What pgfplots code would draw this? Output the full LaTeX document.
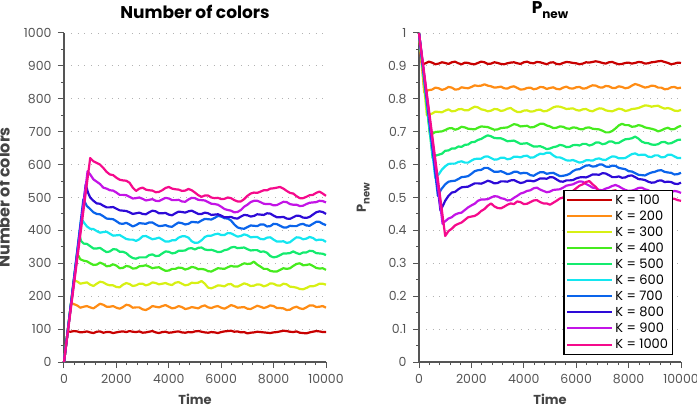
\documentclass[border=0pt]{standalone}
\usepackage{pgfplots}
\pgfplotsset{compat=1.18}
\usepackage{fontspec}
\setmainfont{Poppins}
\definecolor{c1}{RGB}{200,0,0}
\definecolor{c2}{RGB}{255,140,20}
\definecolor{c3}{RGB}{215,240,20}
\definecolor{c4}{RGB}{70,235,30}
\definecolor{c5}{RGB}{20,235,110}
\definecolor{c6}{RGB}{20,230,240}
\definecolor{c7}{RGB}{10,100,235}
\definecolor{c8}{RGB}{45,10,215}
\definecolor{c9}{RGB}{195,20,230}
\definecolor{c10}{RGB}{245,10,140}
\definecolor{axgray}{RGB}{85,85,85}
\newcommand\Pnew{P\raisebox{-0.5ex}{\fontsize{10}{10}\selectfont new}}
\newcommand\Ptitle{P\raisebox{-0.55ex}{\fontsize{12}{12}\selectfont new}}
\pgfplotsset{
  myax/.style={
    scale only axis, width=262pt, height=329pt,
    axis lines=left, axis line style={axgray, line width=1.3pt, -},
    every tick/.style={axgray, line width=1pt},
    tick align=outside, major tick length=6pt, minor tick length=3pt,
    xmin=0, xmax=10000, xtick={0,2000,4000,6000,8000,10000}, minor x tick num=4,
    scaled x ticks=false,
    /pgf/number format/assume math mode=true,
    /pgf/number format/1000 sep={},
    tick label style={font=\fontsize{12.5}{14}\selectfont, text=axgray},
    xticklabel style={yshift=-3pt},
    yticklabel style={xshift=-3pt},
    ymajorgrids, grid style={gray!60, line width=0.8pt, dash pattern=on 0.8pt off 6pt},
    title style={font=\bfseries\fontsize{17}{19}\selectfont, at={(0.5,1)}, anchor=south, yshift=5pt},
    xlabel={\textbf{Time}},
    xlabel style={font=\bfseries\fontsize{13}{15}\selectfont, text=axgray!80!black, at={(axis description cs:0.5,-0.1125)}, anchor=center},
    ylabel style={text=axgray!80!black},
    every axis plot/.append style={line width=2.2pt, line join=round},
    clip=false,
  }
}
\begin{document}
\begin{tikzpicture}
\begin{axis}[myax, at={(64pt,48pt)}, anchor=south west,
  ymin=0, ymax=1000, ytick={0,100,...,1000}, minor y tick num=1,
  title={Number of colors}, ylabel={Number of colors},
  ylabel style={font=\bfseries\fontsize{16}{18}\selectfont, at={(axis description cs:-0.206,0.5)}, anchor=south, inner sep=0pt}]
\addplot[c1] coordinates {(0,0)(140,93)(250,92)(375,94)(500,93)(625,90)(750,91)(875,93)(1000,90)(1125,88)(1250,92)(1375,93)(1500,89)(1625,91)(1750,91)(1875,88)(2000,90)(2125,92)(2250,93)(2375,91)(2500,94)(2625,92)(2750,91)(2875,93)(3000,89)(3125,90)(3250,92)(3375,94)(3500,90)(3625,88)(3750,91)(3875,92)(4000,89)(4125,90)(4250,92)(4375,93)(4500,90)(4625,89)(4750,91)(4875,90)(5000,93)(5125,94)(5250,92)(5375,90)(5500,89)(5625,91)(5750,90)(5875,88)(6000,91)(6125,93)(6250,94)(6375,95)(6500,92)(6625,93)(6750,90)(6875,91)(7000,87)(7125,89)(7250,90)(7375,92)(7500,91)(7625,90)(7750,89)(7875,88)(8000,90)(8125,91)(8250,93)(8375,95)(8500,94)(8625,92)(8750,91)(8875,93)(9000,89)(9125,88)(9250,87)(9375,90)(9500,92)(9625,94)(9750,93)(9875,91)(10000,91)};
\addplot[c2] coordinates {(0,0)(270,179)(375,176)(500,172)(625,165)(750,168)(875,170)(1000,166)(1125,163)(1250,170)(1375,177)(1500,174)(1625,168)(1750,168)(1875,170)(2000,165)(2125,162)(2250,167)(2375,174)(2500,172)(2625,165)(2750,166)(2875,166)(3000,160)(3125,158)(3250,163)(3375,170)(3500,168)(3625,166)(3750,170)(3875,173)(4000,168)(4125,163)(4250,165)(4375,170)(4500,167)(4625,161)(4750,163)(4875,167)(5000,165)(5125,163)(5250,169)(5375,172)(5500,166)(5625,164)(5750,168)(5875,170)(6000,165)(6125,162)(6250,167)(6375,173)(6500,170)(6625,165)(6750,166)(6875,167)(7000,162)(7125,161)(7250,166)(7375,171)(7500,168)(7625,164)(7750,167)(7875,172)(8000,170)(8125,164)(8250,164)(8375,163)(8500,158)(8625,159)(8750,165)(8875,168)(9000,163)(9125,161)(9250,166)(9375,172)(9500,172)(9625,167)(9750,168)(9875,170)(10000,165)};
\addplot[c3] coordinates {(0,0)(380,252)(440,246)(500,245)(625,238)(750,240)(875,242)(1000,235)(1125,231)(1250,238)(1375,244)(1500,242)(1625,236)(1750,233)(1875,233)(2000,228)(2125,227)(2250,235)(2375,240)(2500,237)(2625,231)(2750,233)(2875,238)(3000,238)(3125,233)(3250,236)(3375,242)(3500,240)(3625,236)(3750,238)(3875,240)(4000,236)(4125,234)(4250,241)(4375,243)(4500,238)(4625,233)(4750,235)(4875,241)(5000,240)(5125,241)(5250,246)(5375,238)(5500,226)(5625,224)(5750,228)(5875,233)(6000,232)(6125,230)(6250,236)(6375,237)(6500,230)(6625,229)(6750,234)(6875,239)(7000,236)(7125,231)(7250,232)(7375,236)(7500,235)(7625,230)(7750,233)(7875,239)(8000,238)(8125,233)(8250,232)(8375,238)(8500,236)(8625,229)(8750,228)(8875,226)(9000,222)(9125,221)(9250,225)(9375,230)(9500,230)(9625,233)(9750,238)(9875,238)(10000,235)};
\addplot[c4] coordinates {(0,0)(500,330)(625,312)(750,308)(875,306)(1000,300)(1125,295)(1250,296)(1375,302)(1500,298)(1625,291)(1750,292)(1875,297)(2000,293)(2125,285)(2250,286)(2375,292)(2500,290)(2625,284)(2750,285)(2875,291)(3000,292)(3125,294)(3250,290)(3375,285)(3500,287)(3625,288)(3750,282)(3875,277)(4000,278)(4125,283)(4250,283)(4375,287)(4500,286)(4625,281)(4750,284)(4875,289)(5000,287)(5125,282)(5250,283)(5375,281)(5500,276)(5625,275)(5750,280)(5875,285)(6000,284)(6125,283)(6250,288)(6375,292)(6500,290)(6625,290)(6750,295)(6875,300)(7000,298)(7125,299)(7250,305)(7375,296)(7500,290)(7625,283)(7750,283)(7875,277)(8000,275)(8125,275)(8250,280)(8375,285)(8500,283)(8625,285)(8750,292)(8875,298)(9000,300)(9125,294)(9250,295)(9375,297)(9500,292)(9625,286)(9750,284)(9875,285)(10000,280)};
\addplot[c5] coordinates {(0,0)(590,386)(650,368)(750,360)(875,359)(1000,352)(1125,345)(1250,345)(1375,347)(1500,340)(1625,334)(1750,336)(1875,343)(2000,342)(2125,335)(2250,335)(2375,331)(2500,322)(2625,316)(2750,314)(2875,318)(3000,318)(3125,318)(3250,325)(3375,327)(3500,322)(3625,323)(3750,330)(3875,336)(4000,335)(4125,330)(4250,332)(4375,338)(4500,338)(4625,339)(4750,345)(4875,346)(5000,342)(5125,347)(5250,348)(5375,342)(5500,340)(5625,341)(5750,338)(5875,334)(6000,335)(6125,340)(6250,342)(6375,348)(6500,350)(6625,346)(6750,347)(6875,348)(7000,343)(7125,339)(7250,340)(7375,340)(7500,335)(7625,336)(7750,332)(7875,322)(8000,318)(8125,320)(8250,325)(8375,330)(8500,330)(8625,331)(8750,336)(8875,331)(9000,328)(9125,333)(9250,333)(9375,338)(9500,337)(9625,331)(9750,330)(9875,329)(10000,325)};
\addplot[c6] coordinates {(0,0)(660,437)(750,425)(875,412)(1000,405)(1125,404)(1250,398)(1375,393)(1500,395)(1625,396)(1750,390)(1875,384)(2000,385)(2125,386)(2250,380)(2375,374)(2500,372)(2625,372)(2750,368)(2875,373)(3000,382)(3125,383)(3250,378)(3375,373)(3500,375)(3625,378)(3750,372)(3875,366)(4000,366)(4125,370)(4250,370)(4375,378)(4500,382)(4625,382)(4750,378)(4875,367)(5000,362)(5125,363)(5250,370)(5375,380)(5500,384)(5625,384)(5750,388)(5875,390)(6000,386)(6125,386)(6250,392)(6375,391)(6500,386)(6625,381)(6750,383)(6875,388)(7000,385)(7125,379)(7250,380)(7375,380)(7500,374)(7625,373)(7750,378)(7875,379)(8000,372)(8125,366)(8250,366)(8375,367)(8500,362)(8625,364)(8750,372)(8875,379)(9000,378)(9125,373)(9250,375)(9375,380)(9500,377)(9625,370)(9750,372)(9875,371)(10000,365)};
\addplot[c7] coordinates {(0,0)(740,495)(875,474)(1000,465)(1125,455)(1250,450)(1375,449)(1500,443)(1625,436)(1750,435)(1875,434)(2000,428)(2125,421)(2250,420)(2375,423)(2500,418)(2625,412)(2750,416)(2875,422)(3000,421)(3125,420)(3250,424)(3375,424)(3500,418)(3625,413)(3750,414)(3875,416)(4000,412)(4125,411)(4250,418)(4375,424)(4500,422)(4625,418)(4750,420)(4875,426)(5000,425)(5125,424)(5250,430)(5375,435)(5500,434)(5625,433)(5750,438)(5875,444)(6000,442)(6125,437)(6250,436)(6375,430)(6500,418)(6625,409)(6750,406)(6875,405)(7000,410)(7125,415)(7250,414)(7375,413)(7500,418)(7625,418)(7750,412)(7875,413)(8000,420)(8125,419)(8250,414)(8375,409)(8500,409)(8625,414)(8750,413)(8875,413)(9000,418)(9125,420)(9250,415)(9375,414)(9500,420)(9625,426)(9750,426)(9875,420)(10000,416)};
\addplot[c8] coordinates {(0,0)(830,540)(915,515)(1000,500)(1125,490)(1250,482)(1375,481)(1500,475)(1625,470)(1750,470)(1875,471)(2000,466)(2125,461)(2250,460)(2375,459)(2500,455)(2625,450)(2750,452)(2875,454)(3000,450)(3125,449)(3250,455)(3375,460)(3500,458)(3625,452)(3750,452)(3875,453)(4000,448)(4125,446)(4250,452)(4375,457)(4500,456)(4625,454)(4750,458)(4875,460)(5000,455)(5125,450)(5250,450)(5375,454)(5500,452)(5625,447)(5750,448)(5875,449)(6000,445)(6125,440)(6250,440)(6375,441)(6500,437)(6625,436)(6750,442)(6875,447)(7000,446)(7125,442)(7250,444)(7375,449)(7500,448)(7625,447)(7750,452)(7875,451)(8000,445)(8125,440)(8250,440)(8375,441)(8500,436)(8625,435)(8750,440)(8875,445)(9000,444)(9125,439)(9250,438)(9375,441)(9500,448)(9625,455)(9750,458)(9875,456)(10000,450)};
\addplot[c9] coordinates {(0,0)(900,580)(1000,570)(1125,555)(1250,548)(1375,541)(1500,530)(1625,527)(1750,522)(1875,521)(2000,515)(2125,508)(2250,508)(2375,507)(2500,502)(2625,497)(2750,498)(2875,500)(3000,496)(3125,491)(3250,493)(3375,495)(3500,490)(3625,489)(3750,494)(3875,499)(4000,497)(4125,492)(4250,492)(4375,493)(4500,488)(4625,487)(4750,494)(4875,499)(5000,498)(5125,493)(5250,492)(5375,491)(5500,486)(5625,481)(5750,480)(5875,478)(6000,472)(6125,465)(6250,462)(6375,460)(6500,455)(6625,456)(6750,462)(6875,472)(7000,478)(7125,486)(7250,490)(7375,490)(7500,486)(7625,481)(7750,480)(7875,480)(8000,476)(8125,477)(8250,482)(8375,487)(8500,486)(8625,480)(8750,478)(8875,478)(9000,474)(9125,475)(9250,480)(9375,484)(9500,485)(9625,486)(9750,490)(9875,489)(10000,485)};
\addplot[c10] coordinates {(0,0)(1000,620)(1125,610)(1250,605)(1375,600)(1500,590)(1625,578)(1750,570)(1875,568)(2000,560)(2125,554)(2250,552)(2375,551)(2500,545)(2625,530)(2750,520)(2875,527)(3000,530)(3125,524)(3250,522)(3375,521)(3500,516)(3625,517)(3750,522)(3875,529)(4000,532)(4125,527)(4250,525)(4375,524)(4500,520)(4625,521)(4750,526)(4875,522)(5000,515)(5125,507)(5250,502)(5375,506)(5500,506)(5625,500)(5750,498)(5875,499)(6000,495)(6125,496)(6250,500)(6375,498)(6500,492)(6625,488)(6750,488)(6875,495)(7000,505)(7125,512)(7250,515)(7375,514)(7500,518)(7625,522)(7750,522)(7875,527)(8000,528)(8125,530)(8250,532)(8375,527)(8500,520)(8625,514)(8750,512)(8875,504)(9000,498)(9125,498)(9250,502)(9375,507)(9500,508)(9625,514)(9750,518)(9875,512)(10000,505)};
\end{axis}
\begin{axis}[myax, at={(419pt,48pt)}, anchor=south west,
  ymin=0, ymax=1, ytick={0,0.1,0.2,0.3,0.4,0.5,0.6,0.7,0.8,0.9,1}, minor y tick num=1,
  title={\Ptitle}, ylabel={\Pnew},
  ylabel style={font=\bfseries\fontsize{13}{15}\selectfont, at={(axis description cs:-0.213,0.5)}, anchor=center},
  legend style={at={(1,0)}, anchor=south east, xshift=-8pt, yshift=7pt, draw=black, line width=1.5pt, fill=white,
    font=\fontsize{13}{14}\selectfont, row sep=1pt, inner sep=2.2pt},
  legend cell align=left,
  legend image code/.code={\draw[#1, line width=2pt] (0pt,0pt) -- (45pt,0pt);}]
\addplot[c1] coordinates {(0,1)(100,0.91)(175,0.906)(250,0.908)(375,0.913)(500,0.910)(625,0.905)(750,0.907)(875,0.911)(1000,0.909)(1125,0.906)(1250,0.911)(1375,0.913)(1500,0.908)(1625,0.905)(1750,0.910)(1875,0.909)(2000,0.906)(2125,0.905)(2250,0.909)(2375,0.913)(2500,0.911)(2625,0.906)(2750,0.907)(2875,0.911)(3000,0.909)(3125,0.906)(3250,0.905)(3375,0.908)(3500,0.910)(3625,0.911)(3750,0.908)(3875,0.906)(4000,0.911)(4125,0.913)(4250,0.909)(4375,0.908)(4500,0.912)(4625,0.911)(4750,0.908)(4875,0.905)(5000,0.910)(5125,0.911)(5250,0.906)(5375,0.905)(5500,0.909)(5625,0.912)(5750,0.911)(5875,0.909)(6000,0.908)(6125,0.905)(6250,0.907)(6375,0.911)(6500,0.910)(6625,0.912)(6750,0.914)(6875,0.912)(7000,0.909)(7125,0.907)(7250,0.911)(7375,0.912)(7500,0.908)(7625,0.905)(7750,0.906)(7875,0.909)(8000,0.910)(8125,0.907)(8250,0.909)(8375,0.912)(8500,0.911)(8625,0.907)(8750,0.908)(8875,0.911)(9000,0.912)(9125,0.914)(9250,0.915)(9375,0.912)(9500,0.909)(9625,0.905)(9750,0.907)(9875,0.910)(10000,0.909)};
\addlegendentry{K = 100}
\addplot[c2] coordinates {(0,1)(200,0.82)(350,0.826)(500,0.828)(625,0.834)(750,0.832)(875,0.827)(1000,0.830)(1125,0.836)(1250,0.834)(1375,0.828)(1500,0.829)(1625,0.835)(1750,0.833)(1875,0.832)(2000,0.836)(2125,0.841)(2250,0.839)(2375,0.840)(2500,0.844)(2625,0.840)(2750,0.838)(2875,0.834)(3000,0.835)(3125,0.837)(3250,0.832)(3375,0.831)(3500,0.836)(3625,0.838)(3750,0.833)(3875,0.828)(4000,0.829)(4125,0.833)(4250,0.834)(4375,0.829)(4500,0.831)(4625,0.836)(4750,0.835)(4875,0.830)(5000,0.833)(5125,0.835)(5250,0.830)(5375,0.829)(5500,0.834)(5625,0.837)(5750,0.832)(5875,0.831)(6000,0.835)(6125,0.836)(6250,0.831)(6375,0.832)(6500,0.837)(6625,0.841)(6750,0.840)(6875,0.835)(7000,0.834)(7125,0.839)(7250,0.838)(7375,0.833)(7500,0.833)(7625,0.838)(7750,0.836)(7875,0.832)(8000,0.834)(8125,0.840)(8250,0.845)(8375,0.842)(8500,0.838)(8625,0.834)(8750,0.836)(8875,0.840)(9000,0.839)(9125,0.834)(9250,0.834)(9375,0.829)(9500,0.830)(9625,0.835)(9750,0.836)(9875,0.832)(10000,0.834)};
\addlegendentry{K = 200}
\addplot[c3] coordinates {(0,1)(300,0.75)(400,0.753)(500,0.755)(625,0.761)(750,0.760)(875,0.759)(1000,0.764)(1125,0.768)(1250,0.762)(1375,0.763)(1500,0.768)(1625,0.769)(1750,0.765)(1875,0.765)(2000,0.771)(2125,0.776)(2250,0.774)(2375,0.768)(2500,0.766)(2625,0.762)(2750,0.764)(2875,0.769)(3000,0.768)(3125,0.763)(3250,0.765)(3375,0.770)(3500,0.772)(3625,0.765)(3750,0.760)(3875,0.760)(4000,0.764)(4125,0.765)(4250,0.761)(4375,0.762)(4500,0.766)(4625,0.767)(4750,0.762)(4875,0.763)(5000,0.768)(5125,0.774)(5250,0.777)(5375,0.776)(5500,0.773)(5625,0.769)(5750,0.770)(5875,0.771)(6000,0.766)(6125,0.764)(6250,0.768)(6375,0.769)(6500,0.764)(6625,0.762)(6750,0.767)(6875,0.771)(7000,0.770)(7125,0.765)(7250,0.763)(7375,0.762)(7500,0.766)(7625,0.770)(7750,0.768)(7875,0.763)(8000,0.765)(8125,0.769)(8250,0.770)(8375,0.772)(8500,0.776)(8625,0.780)(8750,0.779)(8875,0.776)(9000,0.778)(9125,0.779)(9250,0.774)(9375,0.770)(9500,0.772)(9625,0.769)(9750,0.764)(9875,0.763)(10000,0.766)};
\addlegendentry{K = 300}
\addplot[c4] coordinates {(0,1)(420,0.69)(500,0.693)(625,0.699)(750,0.700)(875,0.701)(1000,0.705)(1125,0.710)(1250,0.711)(1375,0.706)(1500,0.709)(1625,0.715)(1750,0.713)(1875,0.709)(2000,0.708)(2125,0.707)(2250,0.712)(2375,0.716)(2500,0.715)(2625,0.714)(2750,0.710)(2875,0.706)(3000,0.707)(3125,0.711)(3250,0.712)(3375,0.713)(3500,0.718)(3625,0.723)(3750,0.721)(3875,0.716)(4000,0.717)(4125,0.718)(4250,0.713)(4375,0.714)(4500,0.719)(4625,0.724)(4750,0.724)(4875,0.719)(5000,0.716)(5125,0.711)(5250,0.712)(5375,0.716)(5500,0.715)(5625,0.710)(5750,0.709)(5875,0.713)(6000,0.712)(6125,0.708)(6250,0.707)(6375,0.712)(6500,0.713)(6625,0.709)(6750,0.708)(6875,0.707)(7000,0.703)(7125,0.698)(7250,0.698)(7375,0.702)(7500,0.710)(7625,0.719)(7750,0.724)(7875,0.720)(8000,0.720)(8125,0.715)(8250,0.716)(8375,0.720)(8500,0.718)(8625,0.713)(8750,0.711)(8875,0.709)(9000,0.706)(9125,0.701)(9250,0.704)(9375,0.709)(9500,0.712)(9625,0.707)(9750,0.708)(9875,0.714)(10000,0.718)};
\addlegendentry{K = 400}
\addplot[c5] coordinates {(0,1)(520,0.62)(625,0.627)(750,0.630)(875,0.633)(1000,0.642)(1125,0.643)(1250,0.649)(1375,0.649)(1500,0.655)(1625,0.654)(1750,0.660)(1875,0.661)(2000,0.668)(2125,0.669)(2250,0.675)(2375,0.678)(2500,0.684)(2625,0.689)(2750,0.686)(2875,0.681)(3000,0.680)(3125,0.680)(3250,0.676)(3375,0.671)(3500,0.672)(3625,0.673)(3750,0.668)(3875,0.663)(4000,0.664)(4125,0.665)(4250,0.660)(4375,0.655)(4500,0.655)(4625,0.656)(4750,0.652)(4875,0.647)(5000,0.649)(5125,0.653)(5250,0.655)(5375,0.660)(5500,0.658)(5625,0.653)(5750,0.654)(5875,0.659)(6000,0.660)(6125,0.658)(6250,0.663)(6375,0.663)(6500,0.658)(6625,0.661)(6750,0.667)(6875,0.667)(7000,0.662)(7125,0.664)(7250,0.670)(7375,0.670)(7500,0.665)(7625,0.666)(7750,0.672)(7875,0.677)(8000,0.678)(8125,0.680)(8250,0.685)(8375,0.679)(8500,0.670)(8625,0.666)(8750,0.665)(8875,0.661)(9000,0.660)(9125,0.662)(9250,0.668)(9375,0.669)(9500,0.664)(9625,0.665)(9750,0.670)(9875,0.675)(10000,0.676)};
\addlegendentry{K = 500}
\addplot[c6] coordinates {(0,1)(620,0.56)(750,0.570)(875,0.585)(1000,0.595)(1125,0.602)(1250,0.603)(1375,0.603)(1500,0.608)(1625,0.610)(1750,0.606)(1875,0.606)(2000,0.612)(2125,0.617)(2250,0.618)(2375,0.618)(2500,0.624)(2625,0.625)(2750,0.620)(2875,0.615)(3000,0.616)(3125,0.621)(3250,0.621)(3375,0.616)(3500,0.618)(3625,0.624)(3750,0.624)(3875,0.622)(4000,0.626)(4125,0.627)(4250,0.621)(4375,0.622)(4500,0.628)(4625,0.633)(4750,0.632)(4875,0.636)(5000,0.636)(5125,0.628)(5250,0.622)(5375,0.622)(5500,0.618)(5625,0.613)(5750,0.612)(5875,0.614)(6000,0.610)(6125,0.606)(6250,0.608)(6375,0.613)(6500,0.613)(6625,0.612)(6750,0.617)(6875,0.619)(7000,0.615)(7125,0.614)(7250,0.620)(7375,0.625)(7500,0.624)(7625,0.619)(7750,0.619)(7875,0.620)(8000,0.626)(8125,0.632)(8250,0.634)(8375,0.629)(8500,0.630)(8625,0.630)(8750,0.624)(8875,0.623)(9000,0.628)(9125,0.628)(9250,0.622)(9375,0.623)(9500,0.630)(9625,0.630)(9750,0.625)(9875,0.620)(10000,0.620)};
\addlegendentry{K = 600}
\addplot[c7] coordinates {(0,1)(720,0.505)(850,0.525)(1000,0.540)(1125,0.548)(1250,0.550)(1375,0.551)(1500,0.556)(1625,0.562)(1750,0.563)(1875,0.565)(2000,0.572)(2125,0.580)(2250,0.583)(2375,0.584)(2500,0.590)(2625,0.590)(2750,0.584)(2875,0.578)(3000,0.578)(3125,0.580)(3250,0.576)(3375,0.571)(3500,0.573)(3625,0.578)(3750,0.578)(3875,0.573)(4000,0.575)(4125,0.574)(4250,0.568)(4375,0.566)(4500,0.572)(4625,0.577)(4750,0.577)(4875,0.572)(5000,0.574)(5125,0.575)(5250,0.570)(5375,0.565)(5500,0.566)(5625,0.568)(5750,0.572)(5875,0.580)(6000,0.585)(6125,0.586)(6250,0.592)(6375,0.597)(6500,0.598)(6625,0.594)(6750,0.595)(6875,0.600)(7000,0.600)(7125,0.594)(7250,0.593)(7375,0.597)(7500,0.596)(7625,0.590)(7750,0.588)(7875,0.586)(8000,0.580)(8125,0.579)(8250,0.574)(8375,0.569)(8500,0.568)(8625,0.567)(8750,0.572)(8875,0.576)(9000,0.578)(9125,0.582)(9250,0.583)(9375,0.578)(9500,0.576)(9625,0.575)(9750,0.570)(9875,0.571)(10000,0.575)};
\addlegendentry{K = 700}
\addplot[c8] coordinates {(0,1)(820,0.46)(910,0.475)(1000,0.490)(1125,0.505)(1250,0.515)(1375,0.517)(1500,0.525)(1625,0.531)(1750,0.532)(1875,0.533)(2000,0.538)(2125,0.543)(2250,0.543)(2375,0.542)(2500,0.546)(2625,0.551)(2750,0.548)(2875,0.543)(3000,0.544)(3125,0.549)(3250,0.549)(3375,0.548)(3500,0.552)(3625,0.553)(3750,0.548)(3875,0.544)(4000,0.546)(4125,0.551)(4250,0.551)(4375,0.549)(4500,0.553)(4625,0.558)(4750,0.558)(4875,0.557)(5000,0.562)(5125,0.561)(5250,0.555)(5375,0.549)(5500,0.548)(5625,0.552)(5750,0.552)(5875,0.553)(6000,0.558)(6125,0.561)(6250,0.562)(6375,0.561)(6500,0.565)(6625,0.570)(6750,0.570)(6875,0.569)(7000,0.574)(7125,0.573)(7250,0.568)(7375,0.562)(7500,0.562)(7625,0.564)(7750,0.560)(7875,0.561)(8000,0.566)(8125,0.567)(8250,0.562)(8375,0.556)(8500,0.555)(8625,0.553)(8750,0.548)(8875,0.545)(9000,0.546)(9125,0.551)(9250,0.552)(9375,0.547)(9500,0.548)(9625,0.547)(9750,0.542)(9875,0.541)(10000,0.545)};
\addlegendentry{K = 800}
\addplot[c9] coordinates {(0,1)(900,0.42)(1000,0.428)(1125,0.436)(1250,0.440)(1375,0.448)(1500,0.452)(1625,0.454)(1750,0.462)(1875,0.470)(2000,0.476)(2125,0.481)(2250,0.490)(2375,0.494)(2500,0.494)(2625,0.495)(2750,0.500)(2875,0.504)(3000,0.503)(3125,0.498)(3250,0.496)(3375,0.491)(3500,0.492)(3625,0.499)(3750,0.505)(3875,0.512)(4000,0.515)(4125,0.520)(4250,0.522)(4375,0.528)(4500,0.530)(4625,0.524)(4750,0.520)(4875,0.516)(5000,0.518)(5125,0.523)(5250,0.524)(5375,0.525)(5500,0.530)(5625,0.536)(5750,0.538)(5875,0.540)(6000,0.545)(6125,0.549)(6250,0.548)(6375,0.541)(6500,0.536)(6625,0.530)(6750,0.528)(6875,0.523)(7000,0.522)(7125,0.527)(7250,0.530)(7375,0.535)(7500,0.538)(7625,0.534)(7750,0.528)(7875,0.523)(8000,0.520)(8125,0.521)(8250,0.524)(8375,0.529)(8500,0.530)(8625,0.525)(8750,0.522)(8875,0.517)(9000,0.515)(9125,0.513)(9250,0.512)(9375,0.517)(9500,0.518)(9625,0.516)(9750,0.520)(9875,0.518)(10000,0.514)};
\addlegendentry{K = 900}
\addplot[c10] coordinates {(0,1)(1000,0.383)(1125,0.398)(1250,0.405)(1375,0.415)(1500,0.420)(1625,0.424)(1750,0.432)(1875,0.440)(2000,0.442)(2125,0.444)(2250,0.450)(2375,0.459)(2500,0.465)(2625,0.475)(2750,0.482)(2875,0.473)(3000,0.468)(3125,0.467)(3250,0.472)(3375,0.478)(3500,0.482)(3625,0.480)(3750,0.488)(3875,0.486)(4000,0.480)(4125,0.481)(4250,0.486)(4375,0.491)(4500,0.492)(4625,0.486)(4750,0.482)(4875,0.482)(5000,0.478)(5125,0.484)(5250,0.490)(5375,0.497)(5500,0.500)(5625,0.510)(5750,0.515)(5875,0.520)(6000,0.528)(6125,0.536)(6250,0.540)(6375,0.547)(6500,0.550)(6625,0.540)(6750,0.532)(6875,0.518)(7000,0.508)(7125,0.509)(7250,0.515)(7375,0.520)(7500,0.522)(7625,0.514)(7750,0.510)(7875,0.504)(8000,0.500)(8125,0.502)(8250,0.505)(8375,0.500)(8500,0.498)(8625,0.503)(8750,0.502)(8875,0.496)(9000,0.495)(9125,0.499)(9250,0.500)(9375,0.495)(9500,0.492)(9625,0.497)(9750,0.496)(9875,0.492)(10000,0.490)};
\addlegendentry{K = 1000}
\end{axis}
\pgfresetboundingbox
\useasboundingbox (0pt,0pt) rectangle (697pt,410pt);
\end{tikzpicture}
\end{document}
